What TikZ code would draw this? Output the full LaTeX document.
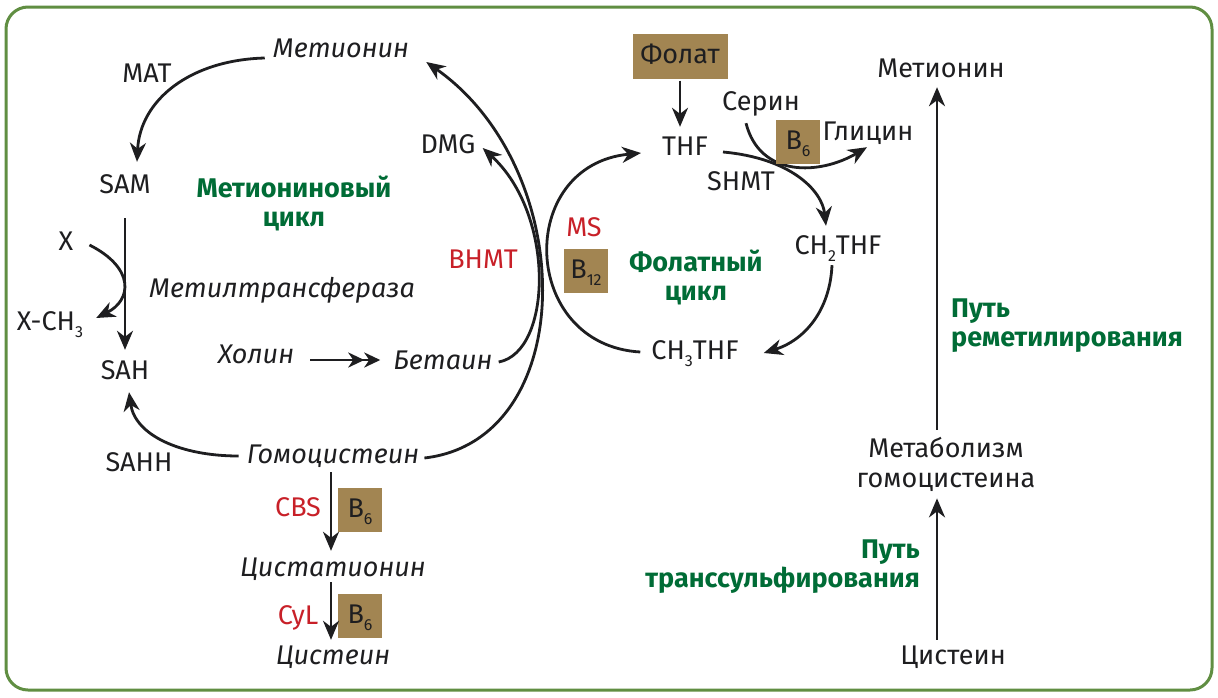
\documentclass[tikz,border=0pt]{standalone}
\usepackage{fontspec}
\setmainfont{Fira Sans}
\usetikzlibrary{arrows.meta, positioning}

\definecolor{framegreen}{RGB}{96,142,66}
\definecolor{cyclegreen}{RGB}{0,108,54}
\definecolor{enzred}{RGB}{200,32,40}
\definecolor{vitbrown}{RGB}{162,133,82}
\definecolor{ink}{RGB}{30,30,32}
\newcommand{\lowidx}[1]{\raisebox{-0.5ex}{\fontsize{16}{16}\selectfont #1}}

\begin{document}
\begin{tikzpicture}[x=1pt, y=-1pt,
  met/.style={font=\fontsize{27}{30}\selectfont, text=ink, inner sep=1pt, text height=20pt, text depth=6pt},
  metit/.style={met, font=\fontsize{27}{30}\selectfont\itshape},
  enz/.style={met, text=enzred},
  cyc/.style={font=\fontsize{27}{29}\selectfont\bfseries, text=cyclegreen, align=center, inner sep=1pt},
  vit/.style={met, fill=vitbrown, minimum width=44pt, minimum height=44pt, inner sep=0pt},
  flow/.style={draw=ink, line width=2.8pt, -{Stealth[length=19pt, width=16pt, inset=6pt]}},
  dflow/.style={draw=ink, line width=2.8pt, -{Stealth[length=16pt, width=15pt, inset=5pt] Stealth[length=16pt, width=15pt, inset=5pt]}}
]
\useasboundingbox (0,0) rectangle (1218,697);
\fill[white] (0,0) rectangle (1218,697);
\draw[framegreen, line width=3pt, rounded corners=22pt] (6,7) rectangle (1212,690);

% Метиониновый цикл
\node[metit] (metL) at (341,50) {Метионин};
\node[met] (mat) at (147,75) {MAT};
\node[met] (sam) at (125,186) {SAM};
\node[cyc] (metcyc) at (294,203) {Метиониновый\\цикл};
\node[met] (xin) at (66,243) {X};
\node[met] (xch) at (50,323) {X-CH\lowidx{3}};
\node[metit] (mtr) at (282,290) {Метилтрансфераза};
\node[met] (sah) at (125,372) {SAH};
\node[metit] (chol) at (256,356) {Холин};
\node[metit] (bet) at (443,362) {Бетаин};
\node[met] (sahh) at (139,464) {SAHH};
\node[metit] (hcy) at (333,456) {Гомоцистеин};
\node[met] (dmg) at (448,146) {DMG};
\node[enz] (bhmt) at (483,261) {BHMT};

% Фолатный цикл
\node[enz] (ms) at (584,229) {MS};
\node[vit] (b12) at (586,271) {B\lowidx{12}};
\node[cyc] (folcyc) at (696,277) {Фолатный\\цикл};
\node[vit, minimum width=95pt, minimum height=45pt] (fol) at (680,56) {Фолат};
\node[met] (thf) at (685,148) {THF};
\node[met] (ser) at (761,103) {Серин};
\node[met] (gly) at (868,133) {Глицин};
\node[met] (shmt) at (741,183) {SHMT};
\node[met] (ch2) at (838,247) {CH\lowidx{2}THF};
\node[met] (ch3) at (695,352) {CH\lowidx{3}THF};

% транссульфирование
\node[enz] (cbs) at (298,509) {CBS};
\node[vit] (b6b) at (360,510) {B\lowidx{6}};
\node[metit] (cyst) at (333,569) {Цистатионин};
\node[enz] (cyl) at (298,617) {CyL};
\node[vit] (b6c) at (360,616) {B\lowidx{6}};
\node[metit] (cysL) at (333,657) {Цистеин};

% правая схема
\node[met, align=center, text height=, text depth=] (metab) at (946,464) {Метаболизм\\гомоцистеина};
\node[met] (metR) at (941,70) {Метионин};
\node[cyc, anchor=west, align=left] (remet) at (950,326) {Путь\\реметилирования};
\node[cyc, anchor=east, align=right] (trans) at (921,567) {Путь\\транссульфирования};
\node[met] (cysR) at (953,657) {Цистеин};

% стрелки метионинового цикла
\draw[flow] ([shift={(-7,8)}]metL.west) .. controls (190,60) and (140,100) .. ([shift={(12,-10)}]sam.north);
\draw[flow] ([shift={(0,18)}]sam.south) -- ([shift={(0,-8)}]sah.north);
\draw[flow] ([shift={(15,2)}]xin.east) .. controls (135,268) and (132,300) .. ([shift={(12,-5)}]xch.east);
\draw[flow] ([shift={(-7,0)}]hcy.west) .. controls (180,456) and (135,435) .. ([shift={(4,6)}]sah.south);
\draw[flow] ([shift={(4,2)}]hcy.east) .. controls (580,440) and (580,170) .. ([shift={(16,12)}]metL.east);
\draw[flow] ([shift={(5,0)}]bet.east) .. controls (552,352) and (556,215) .. ([shift={(6,2)}]dmg.east);
\draw[dflow] ([shift={(15,4)}]chol.east) -- ([shift={(-12,-2)}]bet.west);

% стрелки фолатного цикла
\draw[flow] ([shift={(-10,0)}]ch3.west) .. controls (520,345) and (515,165) .. ([shift={(-20,5)}]thf.west);
\draw[flow] ([shift={(0,2)}]fol.south) -- ([shift={(-5,-7)}]thf.north);
\draw[flow] ([shift={(14,4)}]thf.east) .. controls (790,158) and (822,190) .. ([shift={(-12,-7)}]ch2.north);
\draw[flow] ([shift={(-6,4)}]ch2.south) .. controls (830,310) and (805,340) .. ([shift={(24,1)}]ch3.east);
\draw[flow] ([shift={(-15,6)}]ser.south) .. controls (760,178) and (820,175) .. ([shift={(-1,0)}]gly.south);
\node[vit] (b6a) at (798,142) {B\lowidx{6}};

% транссульфирование
\draw[flow] ([shift={(-2,2)}]hcy.south) -- ([shift={(-2,-4)}]cyst.north);
\draw[flow] ([shift={(-2,-1)}]cyst.south) -- ([shift={(-2,-3)}]cysL.north);

% правая схема
\draw[flow] ([shift={(-16,-3)}]cysR.north) -- ([shift={(-9,6)}]metab.south);
\draw[flow] ([shift={(-9,-6)}]metab.north) -- ([shift={(-4,3)}]metR.south);
\end{tikzpicture}
\end{document}
